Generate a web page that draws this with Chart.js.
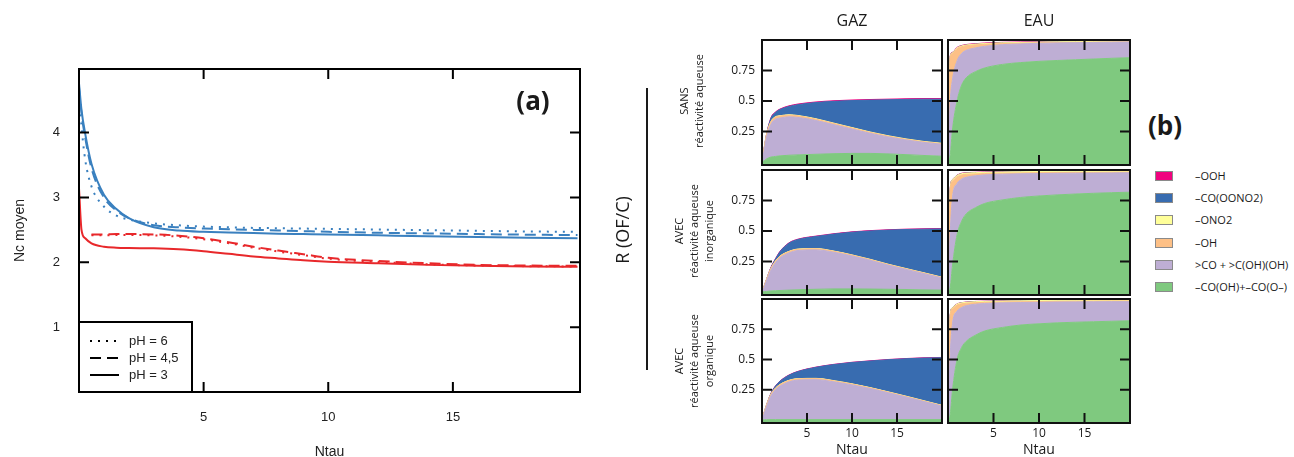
<!DOCTYPE html>
<html>
<head>
<meta charset="utf-8">
<script src="https://cdn.jsdelivr.net/npm/chart.js@4.4.1/dist/chart.umd.min.js"></script>
<style>
  html, body { margin: 0; padding: 0; background: #fff; }
  body { width: 1294px; height: 457px; overflow: hidden; position: relative; font-family: "Open Sans", sans-serif; color: #1a1a1a; }
  .wrap { position: absolute; }
  .txt { position: absolute; white-space: nowrap; transform: translate(-50%, -50%); }
  .rot { position: absolute; white-space: nowrap; text-align: center; transform: translate(-50%, -50%) rotate(-90deg); font-size: 11px; line-height: 15px; }
  .leg { position: absolute; font-size: 11px; white-space: nowrap; }
  .sw { position: absolute; width: 16px; height: 8px; border: 1px solid #8a8a8a; }
</style>
</head>
<body>
<div class="wrap" style="left:0;top:0;width:640px;height:470px"><canvas id="chartA"></canvas></div>

<div class="wrap" style="left:700px;top:30px;width:244px;height:137px"><canvas id="gazSansC"></canvas></div>
<div class="wrap" style="left:946px;top:30px;width:186px;height:137px"><canvas id="eauSansC"></canvas></div>
<div class="wrap" style="left:700px;top:168px;width:244px;height:129px"><canvas id="gazInorgC"></canvas></div>
<div class="wrap" style="left:946px;top:168px;width:186px;height:129px"><canvas id="eauInorgC"></canvas></div>
<div class="wrap" style="left:700px;top:297px;width:244px;height:173px"><canvas id="gazOrgC"></canvas></div>
<div class="wrap" style="left:946px;top:297px;width:186px;height:173px"><canvas id="eauOrgC"></canvas></div>

<div class="txt" style="left:533px;top:100px;font-size:26px;font-weight:700">(a)</div>
<div class="txt" style="left:1165px;top:125px;font-size:26px;font-weight:700">(b)</div>
<div class="txt" style="left:622px;top:230px;font-size:18px;transform:translate(-50%,-50%) rotate(-90deg)">R (OF/C)</div>
<div style="position:absolute;left:646px;top:88px;width:2px;height:282px;background:#1a1a1a"></div>
<div class="txt" style="left:852px;top:20px;font-size:16px">GAZ</div>
<div class="txt" style="left:1039px;top:20px;font-size:16px">EAU</div>
<div class="rot" style="left:691px;top:101px">SANS<br>réactivité aqueuse</div>
<div class="rot" style="left:693px;top:231px">AVEC<br>réactivité aqueuse<br>inorganique</div>
<div class="rot" style="left:693px;top:361px">AVEC<br>réactivité aqueuse<br>organique</div>
<div id="legendB"></div>

<script>
// ---- panel (a): mean carbon number vs Ntau
const ntauA = [0, 0.1, 0.25, 0.5, 1, 1.5, 2, 3, 4, 5, 6, 7, 8, 9, 10, 12, 14, 16, 18, 20];
const ncBluePH6  = [4.65, 4.1, 3.58, 3.17, 2.86, 2.72, 2.66, 2.6, 2.57, 2.55, 2.54, 2.53, 2.525, 2.52, 2.515, 2.505, 2.495, 2.485, 2.475, 2.47];
const ncBluePH45 = [4.7, 4.3, 3.92, 3.45, 3.0, 2.8, 2.68, 2.57, 2.54, 2.52, 2.51, 2.5, 2.49, 2.48, 2.47, 2.455, 2.445, 2.435, 2.425, 2.42];
const ncBluePH3  = [4.76, 4.35, 3.98, 3.52, 3.04, 2.82, 2.68, 2.54, 2.49, 2.47, 2.46, 2.45, 2.44, 2.435, 2.43, 2.415, 2.4, 2.39, 2.38, 2.37];
const ncRedPH6   = [null, null, null, 2.415, 2.415, 2.42, 2.42, 2.415, 2.395, 2.355, 2.295, 2.225, 2.165, 2.11, 2.055, 2.005, 1.97, 1.95, 1.94, 1.935];
const ncRedPH45  = [null, null, null, 2.43, 2.43, 2.435, 2.435, 2.43, 2.41, 2.37, 2.31, 2.24, 2.18, 2.125, 2.07, 2.02, 1.985, 1.96, 1.95, 1.945];
const ncRedPH3   = [3.14, 2.5, 2.37, 2.29, 2.24, 2.225, 2.22, 2.215, 2.2, 2.17, 2.13, 2.09, 2.06, 2.03, 2.01, 1.985, 1.96, 1.945, 1.935, 1.93];
const xTicksA = [5, 10, 15];
const yTicksA = [1, 2, 3, 4];
const legendA = ['pH = 6', 'pH = 4,5', 'pH = 3'];

// ---- panel (b): stacked shares, bottom -> top
const ntauB = [0, 0.25, 0.5, 1, 1.5, 2, 3, 4, 6, 8, 10, 12, 14, 16, 18, 20];
const seriesB = ['\u2013CO(OH)+\u2013CO(O\u2013)', '>CO + >C(OH)(OH)', '\u2013OH', '\u2013ONO2', '\u2013CO(OONO2)', '\u2013OOH'];
const colorsB = ['#7fc97f', '#beaed4', '#fdc086', '#ffff99', '#386cb0', '#f0027f'];
const xTicksB = [5, 10, 15];
const yTicksB = [0.25, 0.5, 0.75];

const gazSans = [
  [0, 0.01, 0.025, 0.04, 0.045, 0.05, 0.055, 0.058, 0.063, 0.068, 0.07, 0.07, 0.066, 0.06, 0.053, 0.047],
  [0, 0.09, 0.175, 0.27, 0.305, 0.31, 0.315, 0.307, 0.277, 0.237, 0.2, 0.165, 0.139, 0.12, 0.107, 0.098],
  [0, 0.015, 0.02, 0.02, 0.018, 0.016, 0.014, 0.013, 0.011, 0.01, 0.009, 0.008, 0.007, 0.006, 0.005, 0.005],
  [0, 0.002, 0.003, 0.003, 0.003, 0.003, 0.003, 0.003, 0.003, 0.003, 0.003, 0.003, 0.003, 0.003, 0.003, 0.003],
  [0, 0, 0, 0.027, 0.035, 0.051, 0.068, 0.089, 0.133, 0.179, 0.221, 0.261, 0.295, 0.324, 0.347, 0.362],
  [0, 0.002, 0.003, 0.004, 0.004, 0.004, 0.005, 0.005, 0.005, 0.005, 0.005, 0.005, 0.005, 0.005, 0.005, 0.005]
];
const gazInorg = [
  [0, 0.002, 0.004, 0.008, 0.01, 0.012, 0.015, 0.018, 0.022, 0.025, 0.025, 0.024, 0.022, 0.02, 0.017, 0.015],
  [0, 0.038, 0.086, 0.172, 0.23, 0.268, 0.305, 0.322, 0.323, 0.3, 0.27, 0.236, 0.198, 0.165, 0.133, 0.1],
  [0, 0.008, 0.01, 0.012, 0.012, 0.012, 0.011, 0.01, 0.009, 0.008, 0.007, 0.006, 0.006, 0.005, 0.005, 0.004],
  [0, 0.002, 0.002, 0.002, 0.002, 0.002, 0.002, 0.002, 0.002, 0.002, 0.002, 0.002, 0.002, 0.002, 0.002, 0.002],
  [0, 0, 0, 0.006, 0.016, 0.036, 0.067, 0.078, 0.099, 0.14, 0.186, 0.232, 0.279, 0.32, 0.358, 0.396],
  [0, 0.001, 0.002, 0.003, 0.003, 0.003, 0.003, 0.003, 0.003, 0.003, 0.003, 0.003, 0.003, 0.003, 0.003, 0.003]
];
const gazOrg = [
  [0, 0.001, 0.002, 0.003, 0.003, 0.003, 0.003, 0.003, 0.003, 0.003, 0.003, 0.003, 0.003, 0.003, 0.003, 0.003],
  [0, 0.054, 0.108, 0.197, 0.247, 0.277, 0.312, 0.327, 0.33, 0.312, 0.287, 0.257, 0.222, 0.187, 0.149, 0.112],
  [0, 0.008, 0.01, 0.012, 0.012, 0.012, 0.011, 0.01, 0.009, 0.008, 0.007, 0.006, 0.006, 0.005, 0.005, 0.004],
  [0, 0.002, 0.002, 0.002, 0.002, 0.002, 0.002, 0.002, 0.002, 0.002, 0.002, 0.002, 0.002, 0.002, 0.002, 0.002],
  [0, 0, 0, 0.006, 0.016, 0.026, 0.042, 0.058, 0.091, 0.133, 0.176, 0.219, 0.265, 0.309, 0.353, 0.394],
  [0, 0.001, 0.002, 0.002, 0.002, 0.002, 0.002, 0.002, 0.002, 0.002, 0.002, 0.002, 0.002, 0.002, 0.002, 0.002]
];
const eauSans = [
  [0, 0.06, 0.27, 0.5, 0.63, 0.69, 0.74, 0.77, 0.8, 0.815, 0.825, 0.832, 0.838, 0.844, 0.85, 0.855],
  [0, 0.44, 0.41, 0.33, 0.26, 0.225, 0.195, 0.178, 0.162, 0.153, 0.148, 0.144, 0.14, 0.136, 0.132, 0.129],
  [0, 0.36, 0.21, 0.1, 0.055, 0.038, 0.025, 0.017, 0.009, 0.006, 0.004, 0.003, 0.003, 0.002, 0.002, 0.002],
  [0, 0.006, 0.006, 0.006, 0.006, 0.006, 0.006, 0.006, 0.006, 0.006, 0.006, 0.006, 0.006, 0.006, 0.006, 0.006],
  [0, 0, 0, 0, 0, 0, 0, 0, 0, 0, 0, 0, 0, 0, 0, 0],
  [0, 0.004, 0.004, 0.004, 0.004, 0.004, 0.004, 0.004, 0.004, 0.004, 0.004, 0.004, 0.004, 0.004, 0.004, 0.004]
];
const eauInorg = [
  [0, 0.04, 0.22, 0.47, 0.58, 0.64, 0.69, 0.725, 0.755, 0.775, 0.787, 0.796, 0.803, 0.809, 0.814, 0.818],
  [0, 0.46, 0.56, 0.42, 0.345, 0.3, 0.263, 0.235, 0.211, 0.194, 0.184, 0.177, 0.171, 0.166, 0.162, 0.159],
  [0, 0.34, 0.13, 0.055, 0.035, 0.025, 0.015, 0.011, 0.008, 0.007, 0.007, 0.006, 0.006, 0.006, 0.006, 0.006],
  [0, 0.01, 0.01, 0.01, 0.01, 0.01, 0.01, 0.01, 0.01, 0.01, 0.01, 0.01, 0.01, 0.01, 0.01, 0.01],
  [0, 0, 0, 0, 0, 0, 0, 0, 0, 0, 0, 0, 0, 0, 0, 0],
  [0, 0.003, 0.003, 0.003, 0.003, 0.003, 0.003, 0.003, 0.003, 0.003, 0.003, 0.003, 0.003, 0.003, 0.003, 0.003]
];
const eauOrg = [
  [0, 0.05, 0.25, 0.5, 0.6, 0.65, 0.7, 0.735, 0.765, 0.785, 0.795, 0.803, 0.808, 0.812, 0.816, 0.82],
  [0, 0.5, 0.55, 0.4, 0.33, 0.295, 0.257, 0.228, 0.203, 0.186, 0.178, 0.172, 0.168, 0.165, 0.162, 0.158],
  [0, 0.31, 0.12, 0.05, 0.03, 0.02, 0.013, 0.009, 0.007, 0.006, 0.006, 0.006, 0.006, 0.006, 0.006, 0.006],
  [0, 0.008, 0.008, 0.008, 0.008, 0.008, 0.008, 0.008, 0.008, 0.008, 0.008, 0.008, 0.008, 0.008, 0.008, 0.008],
  [0, 0, 0, 0, 0, 0, 0, 0, 0, 0, 0, 0, 0, 0, 0, 0],
  [0, 0.002, 0.002, 0.002, 0.002, 0.002, 0.002, 0.002, 0.002, 0.002, 0.002, 0.002, 0.002, 0.002, 0.002, 0.002]
];

// inward ticks on all four sides + frame
const frameTicks = {
  id: 'frameTicks',
  afterDatasetsDraw(chart, args, opts) {
    const { ctx, chartArea: a, scales: { x, y } } = chart;
    const len = opts.len || 10;
    ctx.save();
    ctx.strokeStyle = opts.color || '#000';
    ctx.lineWidth = 2;
    ctx.beginPath();
    x.ticks.forEach(t => {
      const px = x.getPixelForValue(t.value);
      ctx.moveTo(px, a.bottom); ctx.lineTo(px, a.bottom - len);
      ctx.moveTo(px, a.top); ctx.lineTo(px, a.top + len);
    });
    y.ticks.forEach(t => {
      const py = y.getPixelForValue(t.value);
      ctx.moveTo(a.left, py); ctx.lineTo(a.left + len, py);
      ctx.moveTo(a.right, py); ctx.lineTo(a.right - len, py);
    });
    ctx.stroke();
    ctx.strokeRect(a.left, a.top, a.right - a.left, a.bottom - a.top);
    ctx.restore();
  }
};

// fixed axis box size, no label overhang padding
function fixSize(w, h) {
  return s => {
    if (w !== null) s.width = w;
    if (h !== null) s.height = h;
    s.paddingTop = 0; s.paddingBottom = 0; s.paddingLeft = 0; s.paddingRight = 0;
  };
}
const noGrid = { display: false, drawTicks: false };

// legend box of panel (a), lower left corner of the plot
const dashesA = [[2, 6], [11, 6], []];
const legendBoxA = {
  id: 'legendBoxA',
  afterDatasetsDraw(chart) {
    const { ctx, chartArea: a } = chart;
    const x0 = a.left, x1 = a.left + 113, y0 = a.bottom - 70, y1 = a.bottom;
    ctx.save();
    ctx.fillStyle = '#fff';
    ctx.fillRect(x0, y0, x1 - x0, y1 - y0);
    ctx.strokeStyle = '#000';
    ctx.lineWidth = 2;
    ctx.strokeRect(x0, y0, x1 - x0, y1 - y0);
    ctx.font = '13px "Liberation Sans", Arial, sans-serif';
    ctx.textBaseline = 'middle';
    ctx.fillStyle = '#222';
    legendA.forEach((lab, i) => {
      const cy = y0 + 19 + i * 17;
      ctx.setLineDash(dashesA[i]);
      ctx.lineWidth = 2;
      ctx.beginPath();
      ctx.moveTo(x0 + 11, cy); ctx.lineTo(x0 + 40, cy);
      ctx.stroke();
      ctx.setLineDash([]);
      ctx.fillText(lab, x0 + 50, cy);
    });
    ctx.restore();
  }
};

const fontA = { family: '"Liberation Sans", Arial, sans-serif', size: 13 };
const blue = '#3a80bf', red = '#e8282b';
function lineSet(label, vals, color, dash) {
  return {
    label, borderColor: color, borderWidth: 2, borderDash: dash, pointRadius: 0,
    cubicInterpolationMode: 'monotone', fill: false, spanGaps: false,
    data: ntauA.map((x, i) => ({ x, y: vals[i] }))
  };
}

new Chart(document.getElementById('chartA'), {
  type: 'line',
  data: {
    datasets: [
      lineSet('pH = 6', ncBluePH6, blue, dashesA[0]),
      lineSet('pH = 4,5', ncBluePH45, blue, dashesA[1]),
      lineSet('pH = 3', ncBluePH3, blue, dashesA[2]),
      lineSet('pH = 6', ncRedPH6, red, dashesA[0]),
      lineSet('pH = 4,5', ncRedPH45, red, dashesA[1]),
      lineSet('pH = 3', ncRedPH3, red, dashesA[2])
    ]
  },
  options: {
    responsive: true, maintainAspectRatio: false, animation: false,
    layout: { padding: { left: 0, top: 69, right: 60, bottom: 0 } },
    plugins: { legend: { display: false }, tooltip: { enabled: false }, frameTicks: { len: 10 } },
    scales: {
      x: {
        type: 'linear', min: 0, max: 20.1,
        afterBuildTicks: s => { s.ticks = xTicksA.map(v => ({ value: v })); },
        afterFit: fixSize(null, 78),
        grid: noGrid, border: { display: false },
        ticks: { padding: 18, font: fontA, color: '#222', callback: v => String(v) },
        title: { display: true, text: 'Ntau', font: { ...fontA, size: 14 }, color: '#222', padding: { top: 0, bottom: 9 } }
      },
      y: {
        min: 0, max: 4.98,
        afterBuildTicks: s => { s.ticks = yTicksA.map(v => ({ value: v })); },
        afterFit: fixSize(79, null),
        grid: noGrid, border: { display: false },
        ticks: { padding: 19, font: fontA, color: '#222', callback: v => String(v) },
        title: { display: true, text: 'Nc moyen', font: { ...fontA, size: 14 }, color: '#222', padding: { top: 12, bottom: 0 } }
      }
    }
  },
  plugins: [frameTicks, legendBoxA]
});

// ---- panel (b)
const fontB = { family: '"Open Sans", sans-serif', size: 12 };
function stackPanel(id, shares, opt) {
  new Chart(document.getElementById(id), {
    type: 'line',
    data: {
      datasets: seriesB.map((name, k) => ({
        label: name,
        data: ntauB.map((x, i) => ({ x, y: shares[k][i] })),
        backgroundColor: colorsB[k], borderColor: colorsB[k], borderWidth: 1,
        pointRadius: 0, cubicInterpolationMode: 'monotone',
        fill: k === 0 ? 'start' : '-1'
      }))
    },
    options: {
      responsive: true, maintainAspectRatio: false, animation: false,
      layout: { padding: { left: 0, top: opt.padTop, right: 2, bottom: 0 } },
      plugins: { legend: { display: false }, tooltip: { enabled: false }, frameTicks: { len: 10, color: '#111' } },
      scales: {
        x: {
          type: 'linear', min: 0, max: 20,
          afterBuildTicks: s => { s.ticks = xTicksB.map(v => ({ value: v })); },
          afterFit: fixSize(null, opt.xH),
          grid: noGrid, border: { display: false },
          ticks: { display: opt.showX, padding: 3, font: fontB, color: '#1a1a1a', callback: v => String(v) },
          title: { display: opt.showX, text: 'Ntau', font: { ...fontB, size: 14 }, color: '#1a1a1a', padding: { top: 0, bottom: 12 } }
        },
        y: {
          stacked: true, min: -0.025, max: 1.0,
          afterBuildTicks: s => { s.ticks = yTicksB.map(v => ({ value: v })); },
          afterFit: fixSize(opt.yW, null),
          grid: noGrid, border: { display: false },
          ticks: { display: opt.showY, padding: 7, font: fontB, color: '#1a1a1a', callback: v => String(v) }
        }
      }
    },
    plugins: [frameTicks]
  });
}

stackPanel('gazSansC', gazSans, { padTop: 10, xH: 2, yW: 62, showX: false, showY: true });
stackPanel('eauSansC', eauSans, { padTop: 10, xH: 2, yW: 2, showX: false, showY: false });
stackPanel('gazInorgC', gazInorg, { padTop: 2, xH: 2, yW: 62, showX: false, showY: true });
stackPanel('eauInorgC', eauInorg, { padTop: 2, xH: 2, yW: 2, showX: false, showY: false });
stackPanel('gazOrgC', gazOrg, { padTop: 2, xH: 47, yW: 62, showX: true, showY: true });
stackPanel('eauOrgC', eauOrg, { padTop: 2, xH: 47, yW: 2, showX: true, showY: false });

// legend of panel (b), top entry = top of the stack
const legB = document.getElementById('legendB');
seriesB.slice().reverse().forEach((name, i) => {
  const cy = 176 + i * 22.2;
  const sw = document.createElement('div');
  sw.className = 'sw';
  sw.style.left = '1155px';
  sw.style.top = (cy - 5) + 'px';
  sw.style.background = colorsB[seriesB.length - 1 - i];
  legB.appendChild(sw);
  const t = document.createElement('div');
  t.className = 'leg';
  t.style.left = '1195px';
  t.style.top = (cy - 8) + 'px';
  t.style.lineHeight = '16px';
  t.textContent = name;
  legB.appendChild(t);
});
</script>
</body>
</html>
